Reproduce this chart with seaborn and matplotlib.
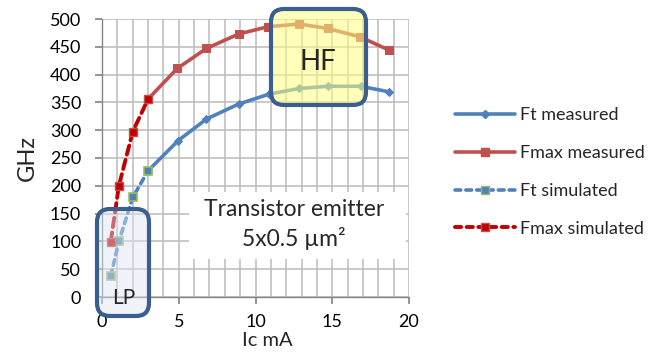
import numpy as np
import pandas as pd
import matplotlib
matplotlib.use("Agg")
import matplotlib.pyplot as plt
import seaborn as sns
from matplotlib.patches import FancyBboxPatch, Rectangle
from matplotlib.lines import Line2D
from matplotlib.ticker import MultipleLocator

# ---- data ----
ft_meas_x = [3.0, 4.95, 6.8, 8.9, 10.9, 12.85, 14.7, 16.85, 18.7]
ft_meas_y = [227, 281, 320, 347, 365, 375, 379, 379, 369]
fmax_meas_x = [3.0, 4.9, 6.8, 8.9, 10.8, 12.85, 14.7, 16.8, 18.7]
fmax_meas_y = [356, 411, 447, 473, 486, 491, 483, 468, 444]
ft_sim_x = [0.57, 1.1, 2.0, 3.0]
ft_sim_y = [38, 100, 179, 227]
fmax_sim_x = [0.57, 1.1, 2.0, 3.0]
fmax_sim_y = [99.5, 200, 297, 356]
series_labels = ["Ft measured", "Fmax measured", "Ft simulated", "Fmax simulated"]
x_ticks = [0, 5, 10, 15, 20]
y_ticks = list(range(0, 501, 50))

sns.set_theme(style="white")
plt.rcParams["font.family"] = ["Lato", "DejaVu Sans"]

W, H = 651, 352
fig = plt.figure(figsize=(W / 100, H / 100), dpi=100)
ax = fig.add_axes([102 / W, (H - 297) / H, 307 / W, 278 / H])

blue = "#4F81BD"
red = "#C0504D"
dred = "#C00000"
green = "#9BBB59"

df_ftm = pd.DataFrame({"x": ft_meas_x, "y": ft_meas_y})
df_fmm = pd.DataFrame({"x": fmax_meas_x, "y": fmax_meas_y})
df_fts = pd.DataFrame({"x": ft_sim_x, "y": ft_sim_y})
df_fms = pd.DataFrame({"x": fmax_sim_x, "y": fmax_sim_y})

sns.lineplot(data=df_ftm, x="x", y="y", ax=ax, sort=False, color=blue, lw=2.6,
             marker="D", markersize=4, markeredgecolor=blue, zorder=4)
sns.lineplot(data=df_fmm, x="x", y="y", ax=ax, sort=False, color=red, lw=2.6,
             marker="s", markersize=5.5, markeredgecolor=red, zorder=4)
sns.lineplot(data=df_fts, x="x", y="y", ax=ax, sort=False, color=blue, lw=2.6, zorder=4)
ax.lines[-1].set_dashes([1.6, 1.4])
ax.lines[-1].set_dash_capstyle("round")
ax.plot(ft_sim_x, ft_sim_y, ls="none", marker="s", markersize=6, markerfacecolor=blue,
        markeredgecolor=green, markeredgewidth=1.2, zorder=5)
sns.lineplot(data=df_fms, x="x", y="y", ax=ax, sort=False, color=dred, lw=2.8, zorder=4)
ax.lines[-1].set_dashes([2.4, 1.4])
ax.lines[-1].set_dash_capstyle("round")
ax.plot(fmax_sim_x, fmax_sim_y, ls="none", marker="s", markersize=6, markerfacecolor=dred,
        markeredgecolor=red, zorder=5)

ax.set_xlim(0, 20)
ax.set_ylim(0, 500)
ax.set_xticks(x_ticks)
ax.set_yticks(y_ticks)
ax.xaxis.set_minor_locator(MultipleLocator(1))
ax.grid(True, which="both", color="#BBBBBB", lw=1.1)
ax.set_axisbelow(True)
for s in ["top", "right"]:
    ax.spines[s].set_visible(False)
for s in ["left", "bottom"]:
    ax.spines[s].set_color("#868686")
    ax.spines[s].set_linewidth(1.0)
ax.tick_params(axis="both", which="major", length=5, color="#868686", labelsize=13,
               labelcolor="black")
ax.tick_params(axis="x", which="major", bottom=True, pad=7)
ax.tick_params(axis="y", which="major", left=True, pad=10)
ax.tick_params(axis="x", which="minor", bottom=False)
ax.set_xlabel("Ic mA", fontsize=14.5, va="center")
ax.xaxis.set_label_coords((267 - 102) / 307, (297 - 340) / 278)
ax.set_ylabel("GHz", fontsize=17, va="center")
ax.yaxis.set_label_coords((27 - 102) / 307, 0.5)

# white annotation box covering the grid
ax.add_patch(Rectangle((5.7, 68), 14.1, 121, facecolor="white", edgecolor="none", zorder=2))
ax.text(12.5, 158, "Transistor emitter", ha="center", va="center", fontsize=16.5, zorder=3)
ax.text(12.5, 105, "5x0.5 \u00b5m\u00b2", ha="center", va="center", fontsize=16.5, zorder=3)

# rounded boxes in pixel-space figure coordinates
def rbox(x0, y0, x1, y1, fc, alpha):
    w = (x1 - x0) / W
    h = (y1 - y0) / H
    p = FancyBboxPatch((x0 / W, 1 - y1 / H), w, h,
                       boxstyle="round,pad=0,rounding_size=0.02",
                       mutation_aspect=W / H,
                       transform=fig.transFigure, facecolor=fc, edgecolor="none",
                       alpha=alpha, zorder=6)
    fig.add_artist(p)
    e = FancyBboxPatch((x0 / W, 1 - y1 / H), w, h,
                       boxstyle="round,pad=0,rounding_size=0.02",
                       mutation_aspect=W / H,
                       transform=fig.transFigure, facecolor="none", edgecolor="#3A5F8E",
                       lw=3.0, zorder=7)
    fig.add_artist(e)

rbox(271, 9, 366, 105, "#FFFF80", 0.55)
rbox(97, 209, 149, 316, "#DCE6F2", 0.45)
fig.text(318 / W, 1 - 62 / H, "HF", ha="center", va="center", fontsize=20, zorder=8)
fig.text(124 / W, 1 - 298 / H, "LP", ha="center", va="center", fontsize=15, zorder=8)

handles = [
    Line2D([], [], color=blue, lw=2.6, marker="D", markersize=4),
    Line2D([], [], color=red, lw=2.6, marker="s", markersize=6),
    Line2D([], [], color=blue, lw=2.6, dashes=[1.6, 1.4], dash_capstyle="round",
           marker="s", markersize=6, markerfacecolor=blue, markeredgecolor=green),
    Line2D([], [], color=dred, lw=2.8, dashes=[1.6, 1.4], dash_capstyle="round",
           marker="s", markersize=6, markerfacecolor=dred, markeredgecolor=red),
]
fig.legend(handles, series_labels, loc="center left", bbox_to_anchor=(439 / W, 1 - 172 / H),
           frameon=False, fontsize=13, handlelength=3.3, labelspacing=1.2,
           handletextpad=0.3)

fig.savefig("out.png", dpi=100)
